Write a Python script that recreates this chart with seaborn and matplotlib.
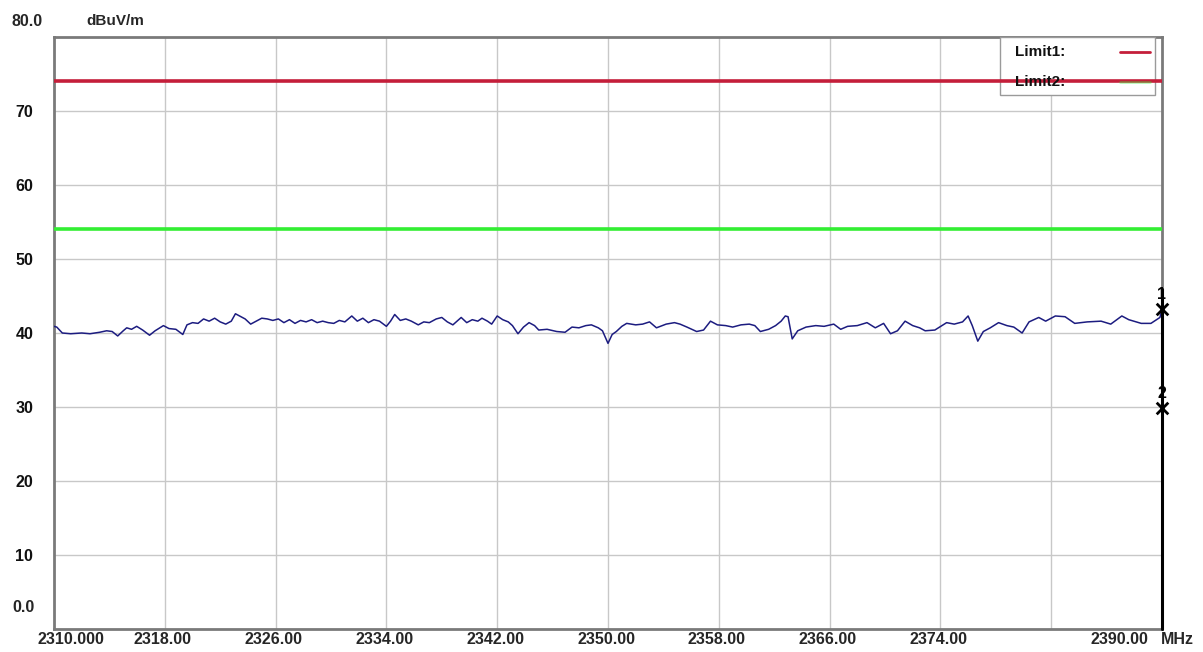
import matplotlib
matplotlib.use("Agg")
import matplotlib.pyplot as plt
import matplotlib.transforms as mtransforms
import seaborn as sns
import pandas as pd

# Measured trace (MHz, dBuV/m)
freq_mhz = [
    2310.0, 2310.2, 2310.6, 2311.2, 2312.0, 2312.6, 2313.3, 2313.8, 2314.2, 2314.6,
    2315.0, 2315.25, 2315.6, 2315.97, 2316.4, 2316.9, 2317.3, 2317.9, 2318.3, 2318.8,
    2319.3, 2319.6, 2320.0, 2320.4, 2320.8, 2321.2, 2321.6, 2322.0, 2322.4, 2322.8,
    2323.1, 2323.5, 2323.8, 2324.2, 2324.6, 2325.0, 2325.4, 2325.8, 2326.2, 2326.6,
    2327.0, 2327.4, 2327.8, 2328.2, 2328.6, 2329.0, 2329.4, 2329.8, 2330.2, 2330.6,
    2331.0, 2331.5, 2331.9, 2332.3, 2332.7, 2333.1, 2333.5, 2334.0, 2334.3, 2334.6,
    2335.0, 2335.4, 2335.8, 2336.3, 2336.7, 2337.1, 2337.6, 2338.0, 2338.4, 2338.8,
    2339.4, 2339.8, 2340.2, 2340.6, 2340.9, 2341.3, 2341.6, 2342.0, 2342.4, 2342.8,
    2343.1, 2343.5, 2343.9, 2344.3, 2344.7, 2345.0, 2345.6, 2346.3, 2346.9, 2347.4,
    2347.9, 2348.4, 2348.8, 2349.3, 2349.6, 2350.0, 2350.3, 2350.6, 2351.0, 2351.35,
    2352.0, 2352.5, 2353.0, 2353.5, 2354.2, 2354.8, 2355.2, 2355.7, 2356.4, 2356.9,
    2357.4, 2357.9, 2358.5, 2359.0, 2359.6, 2360.2, 2360.6, 2361.0, 2361.6, 2362.1,
    2362.5, 2362.8, 2363.0, 2363.3, 2363.7, 2364.3, 2365.0, 2365.6, 2366.3, 2366.8,
    2367.3, 2368.0, 2368.7, 2369.3, 2369.9, 2370.4, 2370.9, 2371.45, 2372.0, 2372.5,
    2372.9, 2373.6, 2374.45, 2375.0, 2375.6, 2376.0, 2376.3, 2376.7, 2377.1, 2377.6,
    2378.2, 2378.8, 2379.3, 2379.9, 2380.4, 2381.1, 2381.6, 2382.3, 2383.0, 2383.7,
    2384.6, 2385.6, 2386.3, 2387.1, 2387.6, 2388.5, 2389.2, 2389.85, 2390.0,
]
level_dbuv = [
    40.9, 40.8, 40.0, 39.9, 40.0, 39.9, 40.1, 40.3, 40.2, 39.6,
    40.3, 40.7, 40.5, 40.9, 40.4, 39.7, 40.3, 41.0, 40.6, 40.5,
    39.8, 41.1, 41.4, 41.3, 41.9, 41.6, 42.0, 41.5, 41.2, 41.6,
    42.6, 42.2, 41.9, 41.2, 41.6, 42.0, 41.9, 41.7, 41.9, 41.4,
    41.8, 41.3, 41.7, 41.5, 41.8, 41.4, 41.6, 41.4, 41.3, 41.7,
    41.5, 42.3, 41.6, 42.0, 41.4, 41.8, 41.6, 40.9, 41.6, 42.5,
    41.7, 41.9, 41.6, 41.1, 41.5, 41.4, 41.9, 42.1, 41.5, 41.1,
    42.1, 41.4, 41.8, 41.6, 42.0, 41.6, 41.2, 42.3, 41.8, 41.5,
    41.0, 39.9, 40.8, 41.4, 41.0, 40.4, 40.5, 40.2, 40.1, 40.8,
    40.7, 41.0, 41.1, 40.7, 40.3, 38.6, 39.8, 40.2, 40.9, 41.3,
    41.1, 41.2, 41.5, 40.7, 41.2, 41.4, 41.2, 40.8, 40.2, 40.4,
    41.6, 41.1, 41.0, 40.8, 41.1, 41.2, 41.0, 40.2, 40.5, 41.0,
    41.6, 42.3, 42.2, 39.2, 40.3, 40.8, 41.0, 40.9, 41.2, 40.5,
    40.9, 41.0, 41.4, 40.7, 41.3, 39.9, 40.3, 41.6, 41.0, 40.7,
    40.3, 40.4, 41.4, 41.2, 41.5, 42.3, 41.0, 38.9, 40.2, 40.7,
    41.4, 41.0, 40.8, 40.0, 41.5, 42.1, 41.6, 42.3, 42.2, 41.3,
    41.5, 41.6, 41.2, 42.3, 41.8, 41.3, 41.3, 42.1, 43.2,
]

# Limit lines
limit_names = ["Limit1:", "Limit2:"]
limit_values = [74.0, 54.0]
limit_colors = ["#c41e3a", "#33ee33"]

# Markers
marker_ids = ["1", "2"]
marker_freq = [2390.0, 2390.0]
marker_level = [43.2, 29.8]

# Axis ticks and labels
x_grid = [2318, 2326, 2334, 2342, 2350, 2358, 2366, 2374, 2382]
x_label_vals = [2310, 2318, 2326, 2334, 2342, 2350, 2358, 2366, 2374, 2390]
x_label_text = ["2310.000", "2318.00", "2326.00", "2334.00", "2342.00", "2350.00",
                "2358.00", "2366.00", "2374.00", "2390.00"]
y_ticks = [10, 20, 30, 40, 50, 60, 70]
y_tick_text = ["10", "20", "30", "40", "50", "60", "70"]

FS = 11.5
W, H = 1203, 652


def fx(px):
    return px / W


def fy(py):
    return 1 - py / H


sns.set_theme(style="white")
plt.rcParams["font.family"] = ["Liberation Sans Narrow", "Liberation Sans", "DejaVu Sans"]
plt.rcParams["font.weight"] = "bold"
plt.rcParams["font.size"] = FS

fig = plt.figure(figsize=(W / 100, H / 100), dpi=100)
ax = fig.add_axes([fx(54), fy(629), (1162 - 54) / W, (629 - 37) / H])
ax.set_xlim(2310, 2390)
ax.set_ylim(0, 80)

# Grid
ax.set_xticks(x_grid)
ax.set_xticklabels([])
ax.set_yticks(y_ticks)
ax.set_yticklabels(y_tick_text, fontweight="bold", fontsize=FS, color="#111111")
ax.tick_params(axis="both", length=0)
ax.tick_params(axis="y", pad=15)
ax.grid(True, color="#c8c8c8", linewidth=1.0)
ax.set_axisbelow(True)

for side in ["left", "right", "top", "bottom"]:
    ax.spines[side].set_visible(True)
    ax.spines[side].set_color("#7a7a7a")
    ax.spines[side].set_linewidth(2.0)

# Trace
trace = pd.DataFrame({"freq": freq_mhz, "level": level_dbuv})
sns.lineplot(data=trace, x="freq", y="level", ax=ax, color="#1c1c80",
             linewidth=1.1, zorder=4)
ax.set_xlabel("")
ax.set_ylabel("")

# Legend box (top right)
px_to_ax = ax.transAxes.inverted()
bx0, by0 = px_to_ax.transform(fig.transFigure.transform((fx(1000), fy(95))))
bx1, by1 = px_to_ax.transform(fig.transFigure.transform((fx(1155), fy(37))))
ax.add_patch(plt.Rectangle((bx0, by0), bx1 - bx0, by1 - by0, transform=ax.transAxes,
                           facecolor="white", edgecolor="#9a9a9a", linewidth=1.0, zorder=3))
leg_y = [52, 82]
for name, col, yy in zip(limit_names, limit_colors, leg_y):
    fig.text(fx(1015), fy(yy), name, ha="left", va="center", fontsize=FS - 0.5,
             fontweight="bold", color="#111111", zorder=5)
    fig.add_artist(plt.Line2D([fx(1120), fx(1150)], [fy(yy), fy(yy)],
                              color=col, linewidth=2.0, alpha=1.0 if col != "#33ee33" else 0.35))

# Limit lines
for val, col in zip(limit_values, limit_colors):
    ax.axhline(val, color=col, linewidth=2.6, zorder=6)

# Marker vertical line and markers
ax.plot([2390, 2390], [0, 46.0], color="black", linewidth=2.2, zorder=7, clip_on=False)
sns.scatterplot(x=marker_freq, y=marker_level, marker="x", s=70, color="black",
                linewidth=2.0, ax=ax, zorder=8, clip_on=False, legend=False)
for mid, mf, ml in zip(marker_ids, marker_freq, marker_level):
    ax.text(mf, ml + 1.0, mid, ha="center", va="bottom", fontsize=FS,
            fontweight="bold", color="black", zorder=8)

# Axis annotations
fig.text(fx(12), fy(21), "80.0", ha="left", va="center", fontsize=FS, fontweight="bold")
fig.text(fx(86), fy(21), "dBuV/m", ha="left", va="center", fontsize=FS - 0.5, fontweight="bold")
fig.text(fx(12), fy(608), "0.0", ha="left", va="center", fontsize=FS, fontweight="bold")

xt = mtransforms.blended_transform_factory(ax.transData, fig.transFigure)
for val, txt in zip(x_label_vals, x_label_text):
    if val == 2310:
        fig.text(fx(38), fy(639), txt, ha="left", va="center", fontsize=FS, fontweight="bold")
    elif val == 2390:
        fig.text(fx(1148), fy(639), txt, ha="right", va="center", fontsize=FS, fontweight="bold")
    else:
        off = mtransforms.offset_copy(xt, fig=fig, x=-2, y=0, units="dots")
        ax.text(val, fy(639), txt, transform=off, ha="center", va="center",
                fontsize=FS, fontweight="bold", clip_on=False)
fig.text(fx(1161), fy(639), "MHz", ha="left", va="center", fontsize=FS, fontweight="bold")

fig.savefig("out.png", dpi=100, facecolor="white")
